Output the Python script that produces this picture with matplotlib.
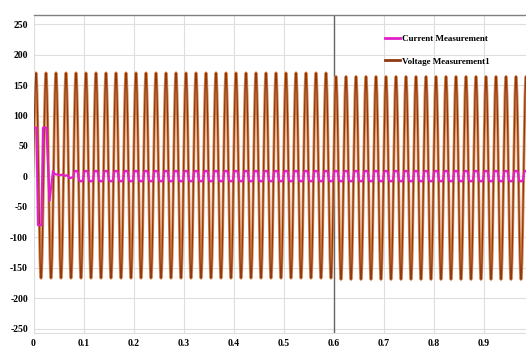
import numpy as np
import matplotlib
matplotlib.use("Agg")
import matplotlib.pyplot as plt
from matplotlib.lines import Line2D

# ---- data ----
dt = 0.001  # sample spacing of the listed cycle shapes (s)

# one 50 Hz cycle of the supply voltage, normalised (20 samples, 1 ms apart)
voltage_cycle = [0.0, 0.31, 0.59, 0.81, 0.95, 1.0, 0.95, 0.81, 0.59, 0.31,
                 0.0, -0.31, -0.59, -0.81, -0.95, -1.0, -0.95, -0.81, -0.59, -0.31]
# peak / trough per segment (segment change at t = 0.6 s)
voltage_seg_cycles = [30, 20]
voltage_seg_peak = [170, 164]
voltage_seg_trough = [-167, -169]

# current: start-up transient as (time, value) points
current_start_t = [0.0, 0.006, 0.009, 0.016, 0.019, 0.026, 0.032, 0.039, 0.042,
                   0.048, 0.052, 0.058, 0.062, 0.068, 0.072, 0.076]
current_start_v = [80, 80, -80, -80, 80, 80, -40, 9, 4,
                   3, 2, 3, 1, 2, -3, -2]
# steady ripple, one cycle (20 samples, 1 ms apart), starting at t = 0.08 s
current_ripple_cycle = [-1, 5, 8, 9, 9, 9, 9, 9, 8, 5,
                        0, -5, -7, -8, -8, -8, -8, -8, -7, -5]
current_ripple_start = 0.08
current_ripple_cycles = 46

x_ticks = [0, 0.1, 0.2, 0.3, 0.4, 0.5, 0.6, 0.7, 0.8, 0.9]
x_tick_labels = ['0', '0.1', '0.2', '0.3', '0.4', '0.5', '0.6', '0.7', '0.8', '0.9']
y_ticks = [250, 200, 150, 100, 50, 0, -50, -100, -150, -200, -250]

# ---- build sample arrays ----
v_vals = []
for n, pk, tr in zip(voltage_seg_cycles, voltage_seg_peak, voltage_seg_trough):
    for _ in range(n):
        v_vals += [s * pk if s >= 0 else -s * tr for s in voltage_cycle]
v_vals.append(0.0)
v_vals = np.array(v_vals)
v_t = np.arange(len(v_vals)) * dt

rip = np.array(current_ripple_cycle * current_ripple_cycles + [current_ripple_cycle[0]], float)
rip_t = current_ripple_start + np.arange(len(rip)) * dt
i_t = np.concatenate([current_start_t, rip_t])
i_vals = np.concatenate([current_start_v, rip])

# ---- plot ----
W, H = 526, 352
fig = plt.figure(figsize=(W / 100, H / 100), dpi=100)
ax = fig.add_axes([33.5 / W, (H - 333) / H, 500 / W, (333 - 15) / H])

volt_col = '#8e3a12'
curr_col = '#e21fc9'

ax.plot(v_t, v_vals, color='#d98a52', lw=2.1, solid_joinstyle='round', zorder=2)
ax.plot(v_t, v_vals, color=volt_col, lw=0.9, zorder=3)
ax.plot(i_t, i_vals, color=curr_col, lw=1.6, zorder=4)

ax.set_xlim(0, 1.0)
ax.set_ylim(-257, 265)
ax.set_xticks(x_ticks)
ax.set_xticklabels(x_tick_labels)
ax.set_yticks(y_ticks)
ax.set_yticklabels([str(v) for v in y_ticks])
ax.tick_params(length=0, pad=4, labelsize=7)
for lab in ax.get_xticklabels() + ax.get_yticklabels():
    lab.set_fontfamily('Liberation Serif')
    lab.set_fontweight('bold')

ax.grid(True, color='#dedede', lw=0.8)
ax.set_axisbelow(True)
# the 0.6 s line is drawn darker in the reference
ax.axvline(0.6, color='#666666', lw=1.0, zorder=1)

for side in ['left', 'right', 'bottom']:
    ax.spines[side].set_color('#dedede')
    ax.spines[side].set_linewidth(0.8)
ax.spines['top'].set_color('#808080')
ax.spines['top'].set_linewidth(1.0)

handles = [Line2D([], [], color=curr_col, lw=2),
           Line2D([], [], color=volt_col, lw=2)]
ax.legend(handles, ['Current Measurement', 'Voltage Measurement1'],
          loc='upper left', bbox_to_anchor=(380 / W, 1 - 30 / H),
          bbox_transform=fig.transFigure, frameon=False, borderpad=0,
          handlelength=1.7, handletextpad=0.2, labelspacing=1.6,
          prop={'family': 'Liberation Serif', 'weight': 'bold', 'size': 6.5})

fig.savefig('out.png', dpi=100)
